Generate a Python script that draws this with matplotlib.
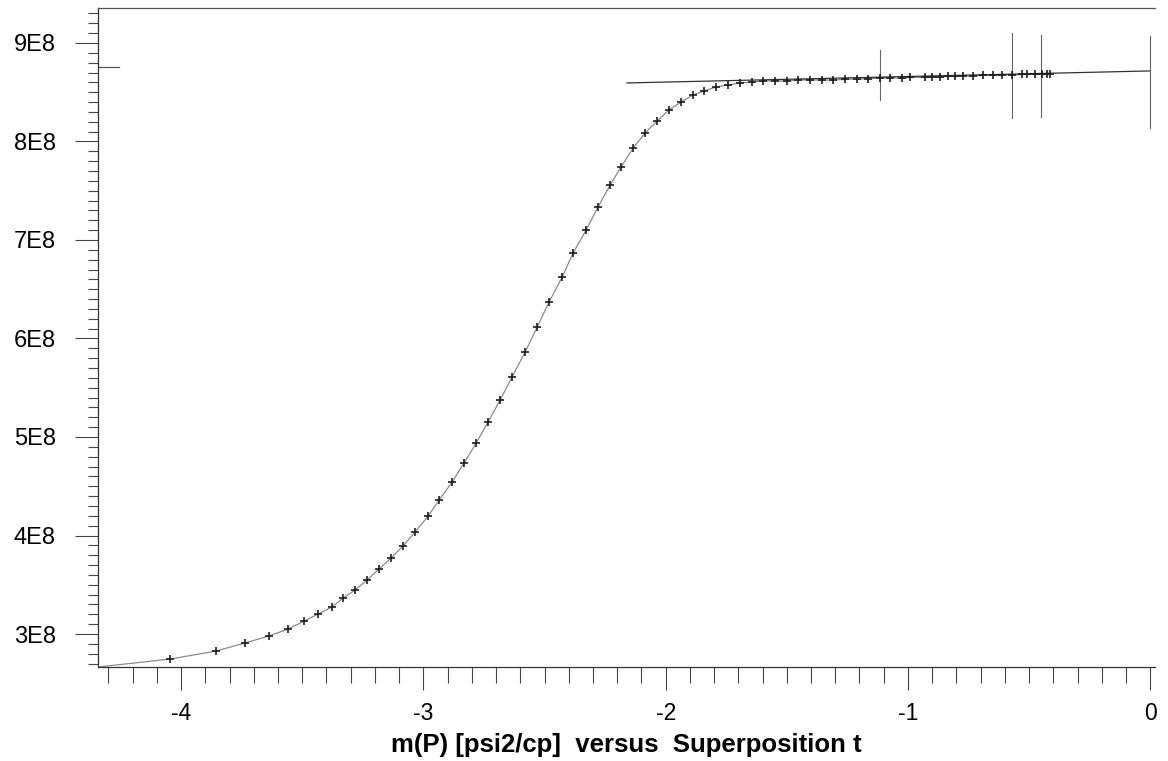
import numpy as np
import matplotlib
matplotlib.use("Agg")
import matplotlib.pyplot as plt
from matplotlib.ticker import MultipleLocator, FixedLocator, FixedFormatter

# ── Data ─────────────────────────────────────────────────
sup_t = [-4.045, -3.856, -3.736, -3.637, -3.558, -3.492, -3.434, -3.377, -3.331,
         -3.282, -3.232, -3.183, -3.133, -3.084, -3.034, -2.980, -2.935, -2.881,
         -2.832, -2.782, -2.733, -2.683, -2.634, -2.580, -2.530, -2.481, -2.427,
         -2.382, -2.328, -2.279, -2.229, -2.184, -2.134, -2.085, -2.035, -1.986,
         -1.936, -1.887, -1.841, -1.792, -1.742, -1.692, -1.643, -1.598, -1.548,
         -1.498, -1.453, -1.404, -1.354, -1.309, -1.259, -1.210, -1.164, -1.115,
         -1.073, -1.024, -0.991, -0.929, -0.900, -0.867, -0.834, -0.805, -0.772,
         -0.731, -0.689, -0.648, -0.611, -0.570, -0.528, -0.508, -0.475, -0.446,
         -0.425, -0.413]
mp = [2.746, 2.827, 2.909, 2.980, 3.051, 3.132, 3.203, 3.274, 3.365,
      3.447, 3.548, 3.660, 3.772, 3.893, 4.036, 4.198, 4.360, 4.543,
      4.736, 4.939, 5.152, 5.376, 5.609, 5.863, 6.117, 6.371, 6.624,
      6.868, 7.102, 7.335, 7.558, 7.741, 7.934, 8.086, 8.208, 8.320,
      8.401, 8.472, 8.513, 8.553, 8.574, 8.594, 8.604, 8.614, 8.614,
      8.614, 8.624, 8.624, 8.624, 8.624, 8.630, 8.635, 8.635, 8.645,
      8.645, 8.645, 8.650, 8.650, 8.655, 8.655, 8.660, 8.660, 8.665,
      8.665, 8.670, 8.670, 8.675, 8.675, 8.680, 8.680, 8.682, 8.685,
      8.685, 8.685]
mp = [v * 1e8 for v in mp]

# model curve starts at the lower-left corner
model_t = [-4.343] + sup_t
model_mp = [2.665e8] + mp

# straight-line fit through the late-time plateau
fit_t = [-2.16, 0.0]
fit_mp = [8.594e8, 8.716e8]

# vertical cursor lines (x, ymin, ymax)
cursor_t = [-1.115, -0.570, -0.450, 0.0]
cursor_lo = [8.42e8, 8.24e8, 8.25e8, 8.14e8]
cursor_hi = [8.93e8, 9.10e8, 9.08e8, 9.07e8]

# short marker near the y axis
flag_t = [-4.343, -4.255]
flag_mp = [8.756e8, 8.756e8]

y_ticks = [3e8, 4e8, 5e8, 6e8, 7e8, 8e8, 9e8]
y_labels = ["3E8", "4E8", "5E8", "6E8", "7E8", "8E8", "9E8"]
x_ticks = [-4, -3, -2, -1, 0]
x_labels = ["-4", "-3", "-2", "-1", "0"]

# ── Figure ───────────────────────────────────────────────
plt.rcParams['font.family'] = ['Liberation Sans', 'DejaVu Sans']
fig = plt.figure(figsize=(11.68, 7.61), dpi=100)
ax = fig.add_axes([0.0839, 0.1235, 0.905, 0.866])

ax.plot(model_t, model_mp, color="#8a8a8a", lw=0.9, zorder=2)
ax.plot(sup_t, mp, ls="none", marker="+", ms=5.5, mew=1.2, color="#1e1e1e", zorder=3)
ax.plot(fit_t, fit_mp, color="#333333", lw=0.9, zorder=2)
ax.plot(flag_t, flag_mp, color="#555555", lw=0.9)
for t, lo, hi in zip(cursor_t, cursor_lo, cursor_hi):
    ax.plot([t, t], [lo, hi], color="#666666", lw=0.8)

ax.set_xlim(-4.343, 0.02)
ax.set_ylim(2.665e8, 9.355e8)

ax.spines["right"].set_visible(False)
ax.spines["top"].set_color("#555555")
ax.spines["top"].set_linewidth(0.9)
for side in ["left", "bottom"]:
    ax.spines[side].set_color("#333333")
    ax.spines[side].set_linewidth(0.9)

ax.xaxis.set_major_locator(FixedLocator(x_ticks))
ax.xaxis.set_major_formatter(FixedFormatter(x_labels))
ax.xaxis.set_minor_locator(MultipleLocator(0.1))
ax.yaxis.set_major_locator(FixedLocator(y_ticks))
ax.yaxis.set_major_formatter(FixedFormatter(y_labels))
ax.yaxis.set_minor_locator(MultipleLocator(1e7))

# tick lengths in points (1 pt = 1.39 px at dpi 100)
ax.tick_params(axis="x", which="major", direction="out", length=16.5, width=0.8,
               color="#444444", labelsize=16.5, pad=8.5)
ax.tick_params(axis="x", which="minor", direction="out", length=11.5, width=0.8,
               color="#444444")
ax.tick_params(axis="y", which="major", direction="out", length=16.5, width=0.8,
               color="#444444", labelsize=17, pad=14)
ax.tick_params(axis="y", which="minor", direction="out", length=7, width=0.8,
               color="#444444")

ax.set_xlabel("m(P) [psi2/cp]  versus  Superposition t", fontsize=18.5,
              fontweight="bold")
ax.xaxis.set_label_coords(0.5, -0.1)

fig.savefig("out.png", dpi=100, facecolor="white")
